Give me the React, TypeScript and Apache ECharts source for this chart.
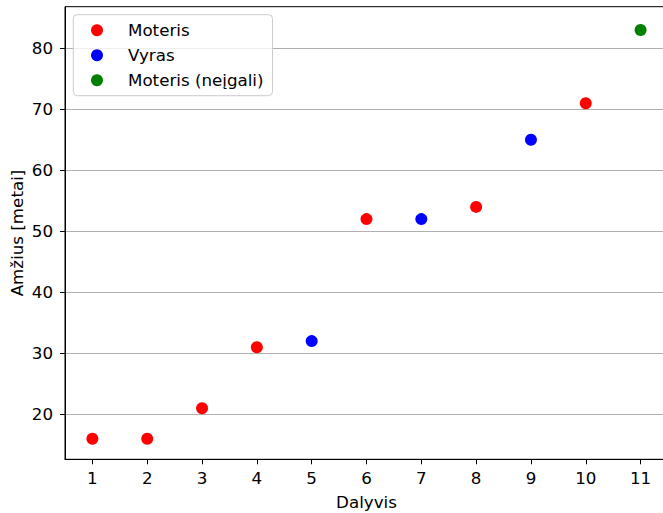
import React, { useEffect, useRef } from "react";
import * as echarts from "echarts";

const moterisData: [number, number][] = [
  [1, 16], [2, 16], [3, 21], [4, 31], [6, 52], [8, 54], [10, 71],
];
const vyrasData: [number, number][] = [
  [5, 32], [7, 52], [9, 65],
];
const neigaliData: [number, number][] = [
  [11, 83],
];
const xTicks = [1, 2, 3, 4, 5, 6, 7, 8, 9, 10, 11];
const yTicks = [20, 30, 40, 50, 60, 70, 80];
const seriesNames = ["Moteris", "Vyras", "Moteris (neįgali)"];
const seriesColors = ["#ff0000", "#0000ff", "#008000"];

const FONT = "DejaVu Sans";
const FS = 16.7;

export default function App() {
  const ref = useRef<HTMLDivElement>(null);
  useEffect(() => {
    if (!ref.current) return;
    const chart = echarts.init(ref.current, null, { renderer: "svg" });
    const datasets = [moterisData, vyrasData, neigaliData];
    chart.setOption({
      animation: false,
      backgroundColor: "#ffffff",
      textStyle: { fontFamily: FONT },
      grid: {
        left: 65,
        right: 2,
        top: 6.7,
        bottom: 53.7,
        show: true,
        borderColor: "#000000",
        borderWidth: 1,
        backgroundColor: "transparent",
        containLabel: false,
        outerBoundsMode: "none",
      },
      legend: {
        left: 73.3,
        top: 14.7,
        orient: "vertical",
        data: seriesNames.map((n) => ({ name: n, icon: "circle" })),
        itemWidth: 24,
        itemHeight: 12,
        itemGap: 8,
        padding: [7, 9, 7, 17.7],
        backgroundColor: "rgba(255,255,255,0.8)",
        borderColor: "#cccccc",
        borderWidth: 1,
        borderRadius: 4,
        textStyle: {
          fontFamily: FONT,
          fontSize: FS,
          lineHeight: 17,
          color: "#000000",
          padding: [0, 0, 0, 14],
        },
      },
      xAxis: {
        type: "value",
        min: 0.5,
        max: 11.5,
        name: "Dalyvis",
        nameLocation: "middle",
        nameGap: 34,
        nameMoveOverlap: false,
        nameTextStyle: { fontFamily: FONT, fontSize: FS, color: "#000000" },
        axisLine: { show: true, onZero: false, lineStyle: { color: "#000000", width: 1 } },
        axisTick: {
          show: true,
          inside: false,
          length: 5,
          lineStyle: { color: "#000000", width: 1 },
          customValues: xTicks,
        },
        axisLabel: {
          fontFamily: FONT,
          fontSize: FS,
          color: "#000000",
          margin: 10,
          customValues: xTicks,
        },
        splitLine: { show: false },
      },
      yAxis: {
        type: "value",
        min: 12.62,
        max: 86.82,
        name: "Amžius [metai]",
        nameLocation: "middle",
        nameRotate: 90,
        nameGap: 40,
        nameMoveOverlap: false,
        nameTextStyle: { fontFamily: FONT, fontSize: FS, color: "#000000" },
        axisLine: { show: true, onZero: false, lineStyle: { color: "#000000", width: 1 } },
        axisTick: {
          show: true,
          inside: false,
          length: 5,
          lineStyle: { color: "#000000", width: 1 },
          customValues: yTicks,
        },
        axisLabel: {
          fontFamily: FONT,
          fontSize: FS,
          color: "#000000",
          margin: 12,
          customValues: yTicks,
        },
        splitLine: { show: true, lineStyle: { color: "#b0b0b0", width: 1 } },
      },
      series: seriesNames.map((n, i) => ({
        name: n,
        type: "scatter",
        data: datasets[i],
        symbol: "circle",
        symbolSize: 12,
        itemStyle: { color: seriesColors[i], opacity: 1 },
        z: 3,
      })),
    });
    return () => chart.dispose();
  }, []);
  return (
    <div
      style={{
        position: "fixed",
        left: 0,
        top: 0,
        width: 663,
        height: 513,
        overflow: "hidden",
        background: "#fff",
      }}
    >
      <div ref={ref} style={{ width: 670, height: 513 }} />
    </div>
  );
}
